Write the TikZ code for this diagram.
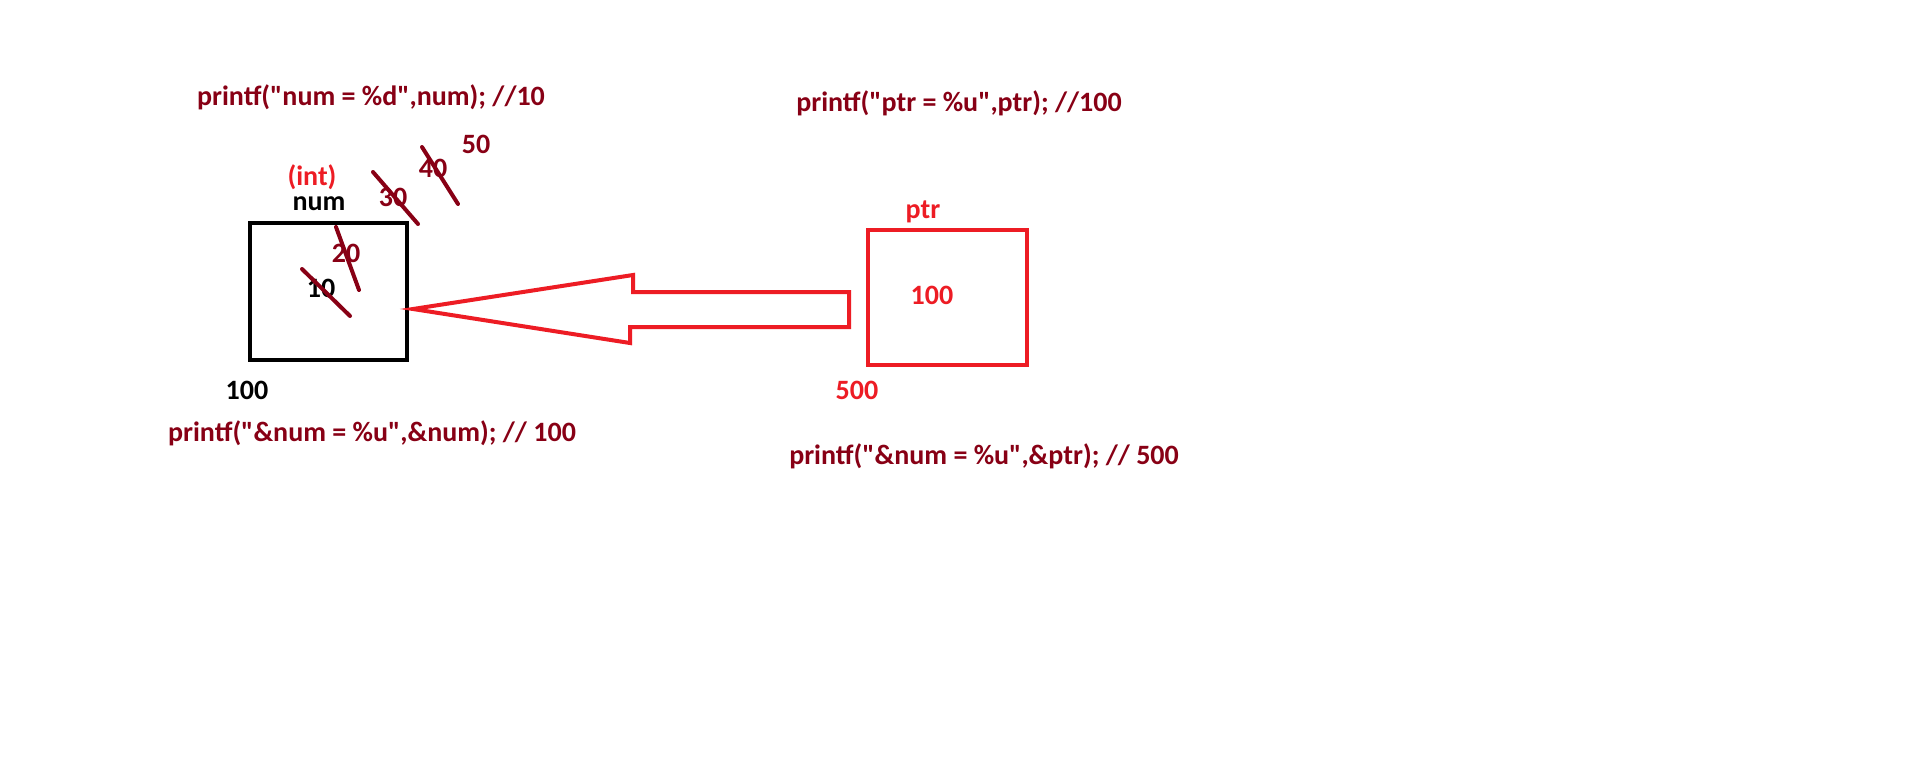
\documentclass[tikz,border=0pt]{standalone}
\usepackage{fontspec}
\newfontfamily\paintfont{Carlito}
\usetikzlibrary{positioning}
\definecolor{darkred}{HTML}{880015}
\definecolor{paintred}{HTML}{ED1C24}
\tikzset{
    %Define style for memory cells
    cell/.style={
           rectangle,
           draw=black, line width=2pt,
           minimum width=78.5pt,
           minimum height=68.5pt},
    %Define style for texts
    lbl/.style={
           font=\paintfont\bfseries\fontsize{14}{16}\selectfont,
           inner sep=0pt},
    code/.style={
           lbl,
           text=darkred},
    % Define strike-out style
    strike/.style={
           draw=darkred,
           line width=2pt,
           line cap=round},
    % Define arrow style
    blockarr/.style={
           draw=paintred,
           line width=2pt}
}

\begin{document}
\begin{tikzpicture}[x=0.5pt,y=-0.5pt]
  \fill[white] (0,0) rectangle (1910,772);
  \useasboundingbox (0,0) rectangle (1910,772);

  % memory cells
  \node[cell] (numbox) at (328.5,291.5) {};
  \node[cell, draw=paintred, minimum width=79.5pt, minimum height=67.5pt] (ptrbox) at (947.5,297.5) {};

  % names and types
  \node[lbl] (numlabel) at (319,204) {num};
  \node[lbl, text=paintred] (intlabel) at (312,177) {(int)};
  \node[lbl, text=paintred] (ptrlabel) at (923,212) {ptr};

  % values
  \node[lbl] (val10) at (321,288) {10};
  \node[code] (val20) at (346,253) {20};
  \node[code] (val30) at (393,197) {30};
  \node[code] (val40) at (433,168) {40};
  \node[code] (val50) at (476,144) {50};
  \node[lbl, text=paintred] (ptrval) at (932,295) {100};

  % addresses
  \node[lbl] (numaddr) at (247,390) {100};
  \node[lbl, text=paintred] (ptraddr) at (857,390) {500};

  % printf lines
  \node[code] (numprint) at (371,97) {printf("num = \%d",num); //10};
  \node[code] (ptrprint) at (959,103) {printf("ptr = \%u",ptr); //100};
  \node[code] (numaddrprint) at (372,433) {printf("\&num = \%u",\&num); // 100};
  \node[code] (ptraddrprint) at (984,456) {printf("\&num = \%u",\&ptr); // 500};

  % crossed out values
  \draw[strike] ([shift={(-19,-19)}]val10.center) -- ([shift={(29,28)}]val10.center);
  \draw[strike] ([shift={(-10,-26)}]val20.center) -- ([shift={(13,37)}]val20.center);
  \draw[strike] ([shift={(-20,-25)}]val30.center) -- ([shift={(25,27)}]val30.center);
  \draw[strike] ([shift={(-11,-21)}]val40.center) -- ([shift={(25,36)}]val40.center);

  % ptr points to num
  \draw[blockarr] ([shift={(4,17.5)}]numbox.east)
    -- ++(220,-34) -- ++(0,17) -- ([shift={(-17,-5.5)}]ptrbox.west)
    -- ++(0,35) -- ++(-219,0) -- ++(0,16) -- cycle;
\end{tikzpicture}
\end{document}
